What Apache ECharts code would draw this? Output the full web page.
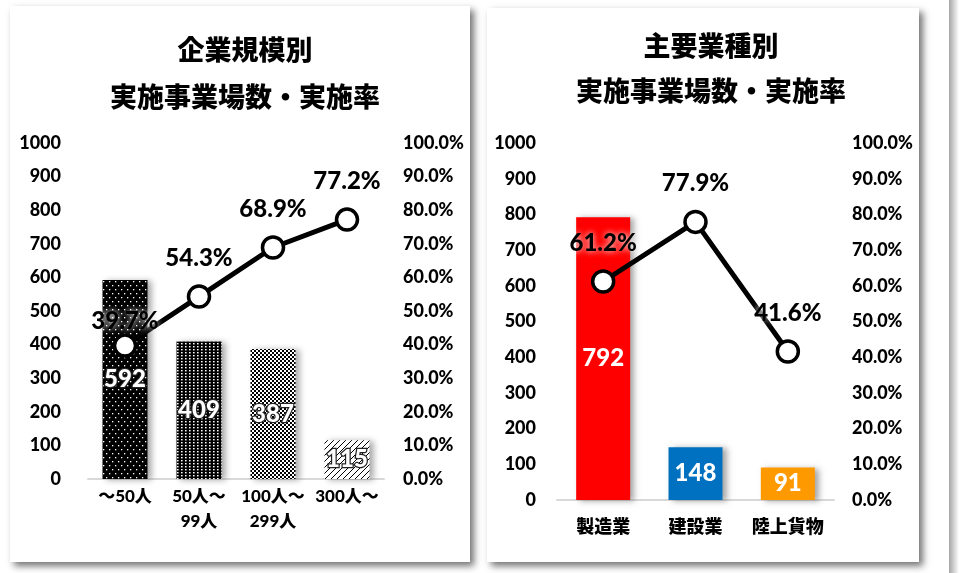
<!DOCTYPE html>
<html><head><meta charset="utf-8">
<script src="https://cdn.jsdelivr.net/npm/echarts@6/dist/echarts.min.js"></script>
<style>html,body{margin:0;padding:0;background:#fff}#c{width:975px;height:573px}</style>
</head><body><div id="c"></div>
<script>
// ---- data ----
const sizeCategories = ['〜50人', '50人〜\n99人', '100人〜\n299人', '300人〜'];
const sizeCounts = [592, 409, 387, 115];
const sizeRates = [39.7, 54.3, 68.9, 77.2];
const industryCategories = ['製造業', '建設業', '陸上貨物'];
const industryCounts = [792, 148, 91];
const industryRates = [61.2, 77.9, 41.6];
const countAxis = { min: 0, max: 1000, interval: 100 };
const rateAxis = { min: 0, max: 100, interval: 10 };
const leftTitle = '企業規模別\n実施事業場数・実施率';
const rightTitle = '主要業種別\n実施事業場数・実施率';
const industryColors = ['#FF0000', '#0070C0', '#FF9900'];

// ---- styles ----
const FONT = "Lato, 'Noto Sans CJK JP', sans-serif";
const W = 900;
function pat(w, h, draw) {
  const c = document.createElement('canvas'); c.width = w; c.height = h;
  const g = c.getContext('2d'); draw(g); return { image: c, repeat: 'repeat' };
}
const patterns = [
  pat(6, 8, g => { g.fillStyle = '#000'; g.fillRect(0,0,6,8); g.fillStyle = '#fff';
    g.fillRect(1,1,1.3,1.3); g.fillRect(4,5,1.3,1.3); }),
  pat(4, 3, g => { g.fillStyle = '#000'; g.fillRect(0,0,4,3); g.fillStyle = '#fff'; g.fillRect(1,1,1.6,1.4); }),
  pat(4, 4, g => { g.fillStyle = '#fff'; g.fillRect(0,0,4,4); g.fillStyle = '#000'; g.fillRect(0,0,2,2); g.fillRect(2,2,2,2); }),
  pat(6, 6, g => { g.fillStyle = '#fff'; g.fillRect(0,0,6,6); g.strokeStyle = '#000'; g.lineWidth = 1;
    g.beginPath(); g.moveTo(-1,7); g.lineTo(7,-1); g.moveTo(-4,4); g.lineTo(4,-4); g.moveTo(2,10); g.lineTo(10,2); g.stroke(); })
];

const axisLabel = { color: '#000', fontFamily: FONT, fontWeight: W, fontSize: 18 };
const barShadow = { shadowColor: 'rgba(0,0,0,0.35)', shadowBlur: 6, shadowOffsetX: 4, shadowOffsetY: 1 };
const lineLabel = {
  show: true, position: 'top', distance: 14, color: '#000', fontFamily: FONT, fontWeight: W, fontSize: 24,
  textShadowColor: '#fff', textShadowBlur: 6,
  formatter: p => p.value.toFixed(1) + '%'
};

function yAxes(gridIndex, leftMargin, rightMargin) {
  return [
    Object.assign({ type: 'value', gridIndex, position: 'left', splitLine: { show: false },
      axisLine: { show: false }, axisTick: { show: false },
      axisLabel: Object.assign({ margin: leftMargin, formatter: v => String(v) }, axisLabel) }, countAxis),
    Object.assign({ type: 'value', gridIndex, position: 'right', splitLine: { show: false },
      axisLine: { show: false }, axisTick: { show: false },
      axisLabel: Object.assign({ margin: rightMargin, formatter: v => v.toFixed(1) + '%' }, axisLabel) }, rateAxis)
  ];
}

const chart = echarts.init(document.getElementById('c'));
chart.setOption({
  animation: false,
  backgroundColor: '#fff',
  graphic: [
    { type: 'rect', z: -10, shape: { x: 949, y: 0, width: 10, height: 573 },
      style: { fill: new echarts.graphic.LinearGradient(0,0,1,0,[{offset:0,color:'rgba(0,0,0,0.35)'},{offset:1,color:'rgba(0,0,0,0)'}]) } },
    { type: 'rect', z: -10, shape: { x: 10, y: 6, width: 460, height: 556 },
      style: { fill: '#fff', shadowColor: 'rgba(0,0,0,0.55)', shadowBlur: 7, shadowOffsetX: 4, shadowOffsetY: 4 } },
    { type: 'rect', z: -10, shape: { x: 487, y: 8, width: 432, height: 554 },
      style: { fill: '#fff', shadowColor: 'rgba(0,0,0,0.55)', shadowBlur: 7, shadowOffsetX: 4, shadowOffsetY: 4 } }
  ],
  title: [
    { text: leftTitle, left: 240, top: 23, textAlign: 'center',
      textStyle: { color: '#000', fontFamily: FONT, fontWeight: W, fontSize: 27, lineHeight: 47 } },
    { text: rightTitle, left: 706, top: 20, textAlign: 'center',
      textStyle: { color: '#000', fontFamily: FONT, fontWeight: W, fontSize: 27, lineHeight: 45 } }
  ],
  grid: [
    { left: 88, right: 975 - 384, top: 143, bottom: 573 - 479 },
    { left: 557, right: 975 - 834, top: 143, bottom: 573 - 500 }
  ],
  xAxis: [
    { type: 'category', gridIndex: 0, data: sizeCategories,
      axisLine: { lineStyle: { color: '#d9d9d9', width: 2 } }, axisTick: { show: false },
      axisLabel: { color: '#000', fontFamily: FONT, fontWeight: W, fontSize: 17, lineHeight: 25, margin: 5, interval: 0 } },
    { type: 'category', gridIndex: 1, data: industryCategories,
      axisLine: { lineStyle: { color: '#d9d9d9', width: 2 } }, axisTick: { show: false },
      axisLabel: { color: '#000', fontFamily: FONT, fontWeight: W, fontSize: 18, lineHeight: 24, margin: 15, interval: 0 } }
  ],
  yAxis: [...yAxes(0, 27, 19), ...yAxes(1, 21, 18)],
  series: [
    { type: 'bar', xAxisIndex: 0, yAxisIndex: 0, barWidth: 45,
      data: sizeCounts.map((v, i) => ({ value: v, itemStyle: Object.assign({ color: patterns[i] }, barShadow) })),
      label: { show: true, position: 'inside', color: '#fff', fontFamily: FONT, fontWeight: W, fontSize: 24,
        textBorderColor: '#222', textBorderWidth: 2.5 } },
    { type: 'line', xAxisIndex: 0, yAxisIndex: 1, z: 5,
      data: sizeRates.map((v, i) => i === 0 ? { value: v, label: { distance: 0 } } : v),
      lineStyle: { color: '#000', width: 5 }, symbol: 'circle', symbolSize: 21,
      itemStyle: { color: '#fff', borderColor: '#000', borderWidth: 3.5 },
      label: lineLabel },
    { type: 'bar', xAxisIndex: 1, yAxisIndex: 2, barWidth: 54,
      data: industryCounts.map((v, i) => ({ value: v, itemStyle: Object.assign({ color: industryColors[i] }, barShadow) })),
      label: { show: true, position: 'inside', color: '#fff', fontFamily: FONT, fontWeight: W, fontSize: 24 } },
    { type: 'line', xAxisIndex: 1, yAxisIndex: 3, z: 5,
      data: industryRates,
      lineStyle: { color: '#000', width: 5 }, symbol: 'circle', symbolSize: 21,
      itemStyle: { color: '#fff', borderColor: '#000', borderWidth: 3.5 },
      label: lineLabel }
  ]
});
</script></body></html>
